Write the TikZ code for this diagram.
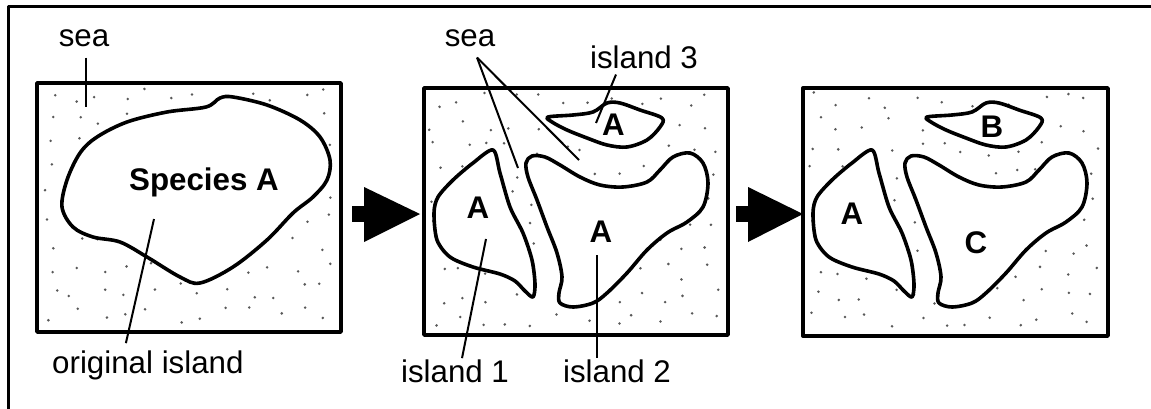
\documentclass[tikz,border=0pt]{standalone}
\usepackage{fontspec}
\setmainfont{Liberation Sans}
\newcommand\seadotsfill[2]{%
  \foreach \i in {0,...,11}{%
    \foreach \j in {0,...,9}{%
      \pgfmathsetmacro\dx{#1+13+\i*25+8*rand}%
      \pgfmathsetmacro\dy{#2+12+\j*24.5+8*rand}%
      \fill[sdot] (\dx,\dy) circle (1.4);
    }%
  }%
}
\begin{document}
\begin{tikzpicture}[x=1pt,y=-1pt,line join=round,
  lbl/.style={font=\fontsize{31.3}{36}\selectfont,inner sep=0pt,anchor=base},
  blbl/.style={font=\fontsize{31.3}{36}\selectfont\bfseries,inner sep=0pt},
  panelbox/.style={draw=black,line width=3.4pt,inner sep=0pt},
  coast/.style={draw=black,line width=3.6pt,fill=white},
  leader/.style={draw=black,line width=2pt},
  sdot/.style={fill=black!65},
  bigarrow/.style={fill=black}]
\useasboundingbox (0,0) rectangle (1151,409);
% outer frame (only top and left visible)
\draw[line width=3.4pt] (8.5,409) -- (8.5,6.5) -- (1151,6.5);

% panels
\node[panelbox,minimum width=304pt,minimum height=249pt] (p1) at (189,207.5) {};
\node[panelbox,minimum width=304pt,minimum height=247pt] (p2) at (576,211.5) {};
\node[panelbox,minimum width=305pt,minimum height=248pt] (p3) at (955.5,212) {};

% sea stipple
\pgfmathsetseed{11}
\seadotsfill{37}{83}
\seadotsfill{424}{88}
\seadotsfill{803}{88}

% panel 1 island
\draw[coast] plot[smooth cycle,tension=0.55] coordinates {
 (62,207) (67,180) (80,153) (97,137) (127,122) (167,112) (206,107) (220,98)
 (233,97) (267,105) (300,120) (320,137) (330,160) (327,180) (313,197)
 (293,213) (267,240) (233,267) (200,283) (180,277) (147,257) (120,242)
 (93,237) (73,227)};

% panel 2 and 3 islands
\foreach \sx in {0,379}{
\begin{scope}[xshift=\sx pt]
\draw[coast] plot[smooth cycle,tension=0.5] coordinates {
 (493,150) (500,173) (510,207) (523,233) (532,260) (535,284) (533,297)
 (525,291) (515,281) (500,274) (473,267) (450,257) (437,240) (434,213)
 (438,197) (453,180) (473,163)};
\draw[coast] plot[smooth cycle,tension=0.55] coordinates {
 (532,156) (545,157) (560,165) (580,177) (600,185) (623,187) (647,182)
 (660,170) (673,157) (690,153) (703,163) (708,183) (703,207) (687,222)
 (667,233) (647,250) (627,273) (607,293) (593,303) (573,307) (560,303)
 (559,293) (562,277) (557,253) (547,227) (537,200) (528,177) (526,163)};
\draw[coast] plot[smooth cycle,tension=0.55] coordinates {
 (548,117) (573,115) (593,112) (607,103) (620,103) (640,110) (662,118)
 (660,127) (647,140) (627,147) (607,145) (587,138) (567,130) (552,122)};
\end{scope}
}

% big arrows
\coordinate (a1tip) at (420,214);
\fill[bigarrow] (352,206) rectangle (364,222);
\fill[bigarrow] (a1tip) -- (364,187) -- (364,242) -- cycle;
\coordinate (a2tip) at (803,214);
\fill[bigarrow] (736,206) rectangle (748,222);
\fill[bigarrow] (a2tip) -- (748,187) -- (748,242) -- cycle;

% labels panel 1
\node[lbl] (sea1) at (84,47) {sea};
\node[lbl,anchor=base west] (orig) at (52,373) {original island};
\node[blbl,anchor=base] (spA) at (204,190) {Species A};
\coordinate (sea1in) at (86,107);
\coordinate (origin1) at (154,219);
\draw[leader] ([xshift=2pt,yshift=-10pt]sea1.south) -- (sea1in);
\draw[leader] (origin1) -- ([xshift=-22pt,yshift=7pt]orig.north);

% labels panel 2
\node[lbl] (sea2) at (470,47) {sea};
\node[lbl] (isl3) at (644,69) {island 3};
\node[lbl] (isl1) at (455,382) {island 1};
\node[lbl] (isl2) at (617,382) {island 2};
\node[blbl] (a3) at (613.5,125) {A};
\node[blbl] (a1) at (478,208) {A};
\node[blbl] (a2) at (601,232) {A};
\coordinate (sea2a) at (518,168);
\coordinate (sea2b) at (579,160);
\coordinate (isl3in) at (596,123);
\coordinate (isl1in) at (486,239);
\coordinate (isl2in) at (597,255);
\draw[leader] ([xshift=7pt,yshift=-10pt]sea2.south) -- (sea2a);
\draw[leader] ([xshift=7pt,yshift=-10pt]sea2.south) -- (sea2b);
\draw[leader] ([xshift=-28pt,yshift=-5pt]isl3.south) -- (isl3in);
\draw[leader] (isl1in) -- ([xshift=7pt,yshift=1pt]isl1.north);
\draw[leader] (isl2in) -- ([xshift=-20pt,yshift=1pt]isl2.north);

% labels panel 3
\node[blbl] (b3) at (992,127) {B};
\node[blbl] (a31) at (852,214) {A};
\node[blbl] (c3) at (976,243) {C};
\end{tikzpicture}
\end{document}
